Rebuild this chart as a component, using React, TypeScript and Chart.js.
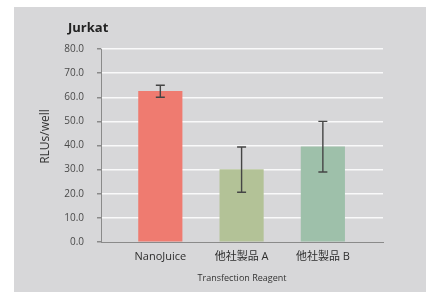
import { useEffect, useRef } from "react";
import { Chart, registerables } from "chart.js";

Chart.register(...registerables);

const categories = ["NanoJuice", "他社製品 A", "他社製品 B"];
const values = [62.5, 30.0, 39.5];
const errors = [2.5, 9.4, 10.5];
const barColors = ["#ef7b70", "#b3c297", "#9ec0aa"];
const yMin = 0;
const yMax = 80;
const yStep = 10;
const chartTitle = "Jurkat";
const yTitle = "RLUs/well";
const xTitle = "Transfection Reagent";

const FONT = "'Open Sans', 'Noto Sans CJK JP', sans-serif";

const errorBarPlugin = {
  id: "errorBars",
  afterDatasetsDraw(chart: any) {
    const { ctx, scales } = chart;
    const xs = scales.x;
    const ys = scales.y;
    ctx.save();
    ctx.strokeStyle = "#454545";
    ctx.lineWidth = 1.4;
    values.forEach((v, i) => {
      const x = xs.getPixelForValue(i);
      const yTop = ys.getPixelForValue(v + errors[i]);
      const yBot = ys.getPixelForValue(v - errors[i]);
      const cap = 4.5;
      ctx.beginPath();
      ctx.moveTo(x, yTop);
      ctx.lineTo(x, yBot);
      ctx.moveTo(x - cap, yTop);
      ctx.lineTo(x + cap, yTop);
      ctx.moveTo(x - cap, yBot);
      ctx.lineTo(x + cap, yBot);
      ctx.stroke();
    });
    ctx.restore();
  },
};

const titlePlugin = {
  id: "titles",
  afterDraw(chart: any) {
    const { ctx, chartArea } = chart;
    ctx.save();
    ctx.font = `bold 13px ${FONT}`;
    ctx.fillStyle = "#222";
    ctx.textBaseline = "middle";
    ctx.textAlign = "left";
    ctx.fillText(chartTitle, 54, 21.5);
    // y-axis title
    ctx.translate(32, (chartArea.top + chartArea.bottom) / 2 - 9);
    ctx.rotate(-Math.PI / 2);
    ctx.textAlign = "center";
    ctx.font = `12px ${FONT}`;
    ctx.fillStyle = "#333";
    ctx.fillText(yTitle, 0, 0);
    ctx.restore();
  },
};

export default function App() {
  const ref = useRef<HTMLCanvasElement>(null);
  useEffect(() => {
    document.body.style.margin = "0";
    if (!ref.current) return;
    const chart = new Chart(ref.current, {
      type: "bar",
      data: {
        datasets: [
          {
            data: values.map((v, i) => ({ x: i, y: v })),
            backgroundColor: barColors,
            borderWidth: 0,
            barThickness: 43.5,
          },
        ],
      },
      options: {
        animation: false,
        responsive: false,
        devicePixelRatio: 1,
        layout: { padding: { top: 42, right: 43, bottom: 0, left: 0 } },
        plugins: {
          legend: { display: false },
          tooltip: { enabled: false },
          title: { display: false },
        },
        scales: {
          x: {
            type: "linear",
            offset: false,
            min: -0.73,
            max: 2.74,
            afterBuildTicks: (scale: any) => {
              scale.ticks = categories.map((_, i) => ({ value: i }));
            },
            afterFit: (scale: any) => {
              scale.height = 50;
            },
            grid: { display: true, offset: false, color: "rgba(0,0,0,0)", drawTicks: false },
            border: { display: true, color: "#8a8a8a", width: 1 },
            ticks: {
              padding: 8,
              color: "#2e2e2e",
              font: { family: FONT, size: 11 },
              callback: (v: any) => categories[Math.round(Number(v))] ?? "",
              maxRotation: 0,
              autoSkip: false,
            },
            title: {
              display: true,
              text: xTitle,
              color: "#333",
              font: { family: FONT, size: 9 },
              padding: { top: 0, bottom: 8 },
            },
          },
          y: {
            min: yMin,
            max: yMax,
            afterFit: (scale: any) => {
              scale.width = 87;
            },
            grid: {
              color: (c: any) => (c.tick && c.tick.value === 0 ? "rgba(0,0,0,0)" : "rgba(255,255,255,0.85)"),
              lineWidth: 1.5,
              tickColor: "#8a8a8a",
              tickLength: 4,
              drawTicks: true,
            },
            border: { display: true, color: "#8a8a8a", width: 1 },
            ticks: {
              stepSize: yStep,
              padding: 13,
              color: "#4a4a4a",
              font: { family: FONT, size: 10 },
              callback: (v: any) => Number(v).toFixed(1),
            },
            title: { display: false },
          },
        },
      },
      plugins: [errorBarPlugin, titlePlugin],
    });
    return () => chart.destroy();
  }, []);

  return (
    <div style={{ position: "fixed", left: 0, top: 0, width: 426, height: 292, background: "#ffffff" }}>
      <div style={{ position: "absolute", left: 14, top: 7, width: 412, height: 285, background: "#d7d7d9" }}>
        <canvas ref={ref} width={412} height={285} style={{ display: "block" }} />
      </div>
    </div>
  );
}
